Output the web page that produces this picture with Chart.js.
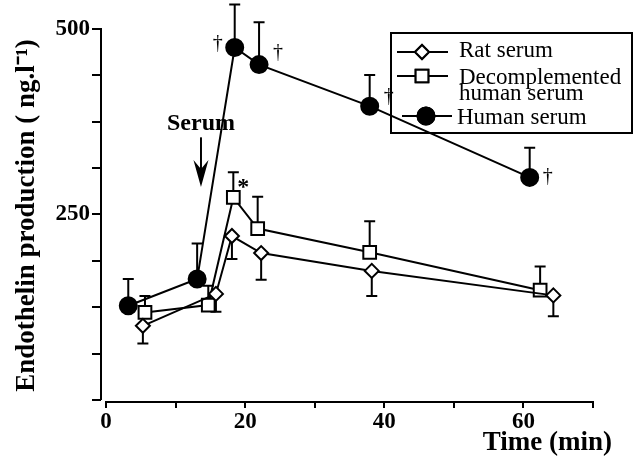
<!DOCTYPE html>
<html><head><meta charset="utf-8">
<script src="https://cdn.jsdelivr.net/npm/chart.js@4/dist/chart.umd.min.js"></script>
<style>html,body{margin:0;padding:0;background:#fff}canvas{display:block}</style>
</head><body>
<canvas id="c" width="640" height="463"></canvas>
<script>
// ---- data ----
const seriesNames = ['Rat serum', 'Decomplemented human serum', 'Human serum'];
const ratTime  = [5.3, 15.8, 18.1, 22.3, 38.2, 64.3];
const ratValue = [100, 143, 221, 198, 174, 141];
const ratErr   = [24, 24, 31, 36, 34, 28];
const decTime  = [5.6, 14.7, 18.3, 21.8, 37.9, 62.4];
const decValue = [118, 128, 273, 231, 199, 148];
const decErr   = [22, 26, 34, 43, 42, 32];
const humTime  = [3.2, 13.1, 18.5, 22.0, 37.9, 60.9];
const humValue = [127, 163, 475, 452, 396, 300];
const humErr   = [36, 48, 58, 57, 42, 40];
const xTicks = [0, 10, 20, 30, 40, 50, 60, 70];
const xLabels = [0, 20, 40, 60];
const yTicks = [0, 62.5, 125, 187.5, 250, 312.5, 375, 437.5, 500];
const yLabels = [250, 500];
const serumTime = 13.65;     // time of serum addition (arrow)
const marks = [              // significance symbols: series index, point index
  {s: 2, i: 2, t: '\u2020', dx: -17, dy: -4},
  {s: 2, i: 3, t: '\u2020', dx: 19, dy: -12},
  {s: 2, i: 4, t: '\u2020', dx: 19, dy: -9},
  {s: 2, i: 5, t: '\u2020', dx: 18, dy: -1},
  {s: 1, i: 2, t: '*', dx: 10, dy: -14}
];

const zip = (xs, ys) => xs.map((v, k) => ({x: v, y: ys[k]}));
const SERIF = "'Liberation Serif', 'Times New Roman', serif";

const errorBars = {
  id: 'errorBars',
  beforeDatasetsDraw(chart) {
    const {ctx, scales: {x, y}} = chart;
    ctx.save();
    ctx.strokeStyle = '#000';
    ctx.lineWidth = 2;
    chart.data.datasets.forEach(ds => {
      ds.data.forEach((p, k) => {
        const px = x.getPixelForValue(p.x);
        const py0 = y.getPixelForValue(p.y);
        const py1 = y.getPixelForValue(p.y + ds.errDir * ds.err[k]);
        ctx.beginPath();
        ctx.moveTo(px, py0); ctx.lineTo(px, py1);
        ctx.moveTo(px - 5.5, py1); ctx.lineTo(px + 5.5, py1);
        ctx.stroke();
      });
    });
    ctx.restore();
  }
};

const decorations = {
  id: 'decorations',
  afterDraw(chart) {
    const {ctx, scales: {x, y}, chartArea: ca} = chart;
    const ds = chart.data.datasets;
    ctx.save();
    // axis lines
    ctx.strokeStyle = '#000';
    ctx.lineWidth = 2;
    ctx.beginPath();
    ctx.moveTo(ca.left, y.getPixelForValue(500) - 1);
    ctx.lineTo(ca.left, y.getPixelForValue(0));
    ctx.moveTo(x.getPixelForValue(0) - 1, ca.bottom);
    ctx.lineTo(x.getPixelForValue(70) + 1, ca.bottom);
    ctx.stroke();

    // significance marks
    ctx.fillStyle = '#000';
    ctx.textAlign = 'center';
    ctx.textBaseline = 'middle';
    marks.forEach(m => {
      const p = ds[m.s].data[m.i];
      const px = x.getPixelForValue(p.x) + m.dx;
      const py = y.getPixelForValue(p.y) + m.dy;
      ctx.font = m.t === '*' ? 'bold 24px ' + SERIF : '20px ' + SERIF;
      ctx.fillText(m.t, px, py + (m.t === '*' ? 4 : 0));
    });

    // "Serum" label and arrow
    const ax = x.getPixelForValue(serumTime);
    ctx.font = 'bold 24px ' + SERIF;
    ctx.fillText('Serum', x.getPixelForValue(serumTime), y.getPixelForValue(372));
    const aTop = y.getPixelForValue(354), aTip = y.getPixelForValue(287);
    ctx.beginPath();
    ctx.moveTo(ax, aTop); ctx.lineTo(ax, aTip - 18);
    ctx.lineWidth = 2; ctx.stroke();
    ctx.beginPath();
    ctx.moveTo(ax, aTip);
    ctx.lineTo(ax - 7.5, aTip - 27);
    ctx.lineTo(ax, aTip - 18);
    ctx.lineTo(ax + 7.5, aTip - 27);
    ctx.closePath(); ctx.fill();

    // x axis title
    ctx.font = 'bold 27px ' + SERIF;
    ctx.textAlign = 'right';
    ctx.textBaseline = 'alphabetic';
    ctx.fillText('Time (min)', ca.right + 19, 450);

    // legend
    const L = {l: 391, t: 33, w: 241, h: 100};
    ctx.lineWidth = 2;
    ctx.strokeRect(L.l, L.t, L.w, L.h);
    const rows = [
      {d: 0, y: 52, x0: 397, x1: 448, mx: 422, lines: ['Rat serum'], ty: [57], tx: 459},
      {d: 1, y: 76, x0: 397, x1: 448, mx: 422, lines: ['Decomplemented', 'human serum'], ty: [84, 100], tx: 459},
      {d: 2, y: 116, x0: 402, x1: 452, mx: 426, lines: ['Human serum'], ty: [124], tx: 457}
    ];
    ctx.textAlign = 'left';
    ctx.font = '23px ' + SERIF;
    rows.forEach(r => {
      const d = ds[r.d];
      ctx.beginPath();
      ctx.moveTo(r.x0, r.y); ctx.lineTo(r.x1, r.y);
      ctx.lineWidth = 2; ctx.strokeStyle = '#000'; ctx.stroke();
      ctx.fillStyle = d.pointBackgroundColor;
      ctx.strokeStyle = '#000';
      ctx.lineWidth = d.pointBorderWidth;
      Chart.helpers.drawPoint(ctx, {pointStyle: d.pointStyle, radius: d.pointRadius, rotation: 0, borderWidth: d.pointBorderWidth}, r.mx, r.y);
      ctx.fill(); ctx.stroke();
      ctx.fillStyle = '#000';
      r.lines.forEach((t, k) => ctx.fillText(t, r.tx, r.ty[k]));
    });
    ctx.restore();
  }
};

const common = {
  borderColor: '#000', borderWidth: 2, tension: 0, clip: false,
  pointBorderColor: '#000', pointBorderWidth: 2, fill: false
};

new Chart(document.getElementById('c'), {
  type: 'line',
  data: {
    datasets: [
      Object.assign({}, common, {label: seriesNames[0], data: zip(ratTime, ratValue), err: ratErr, errDir: -1,
        pointStyle: 'rectRot', pointRadius: 7, pointBackgroundColor: '#fff'}),
      Object.assign({}, common, {label: seriesNames[1], data: zip(decTime, decValue), err: decErr, errDir: 1,
        pointStyle: 'rect', pointRadius: 9, pointBackgroundColor: '#fff'}),
      Object.assign({}, common, {label: seriesNames[2], data: zip(humTime, humValue), err: humErr, errDir: 1,
        pointStyle: 'circle', pointRadius: 8.5, pointBackgroundColor: '#000'})
    ]
  },
  options: {
    responsive: false,
    animation: false,
    devicePixelRatio: 1,
    layout: {padding: {left: 0, top: 29, right: 47, bottom: 0}},
    plugins: {legend: {display: false}, tooltip: {enabled: false}},
    scales: {
      x: {
        type: 'linear', min: -0.72, max: 70,
        afterFit: s => { s.height = 61; },
        afterBuildTicks: s => { s.ticks = xTicks.map(v => ({value: v})); },
        border: {display: false},
        grid: {drawOnChartArea: false, drawTicks: true, tickLength: 6, tickWidth: 2, tickColor: '#000', lineWidth: 2, color: '#000'},
        ticks: {
          color: '#000', padding: 0, maxRotation: 0, autoSkip: false,
          font: {family: SERIF, size: 23, weight: 'bold'},
          callback: v => xLabels.includes(v) ? String(v) : ''
        }
      },
      y: {
        type: 'linear', min: -2.7, max: 500,
        afterFit: s => { s.width = 101; },
        afterBuildTicks: s => { s.ticks = yTicks.map(v => ({value: v})); },
        border: {display: false},
        grid: {drawOnChartArea: false, drawTicks: true, tickLength: 9, tickWidth: 2, tickColor: '#000', lineWidth: 2, color: '#000'},
        ticks: {
          color: '#000', padding: 2, autoSkip: false,
          font: {family: SERIF, size: 23, weight: 'bold'},
          callback: v => yLabels.includes(v) ? String(v) : ''
        },
        title: {
          display: true, text: 'Endothelin production ( ng.l\u207B\u00B9)', color: '#000',
          font: {family: SERIF, size: 27, weight: 'bold'},
          padding: {top: 11, bottom: 0}
        }
      }
    }
  },
  plugins: [errorBars, decorations]
});
</script>
</body></html>
